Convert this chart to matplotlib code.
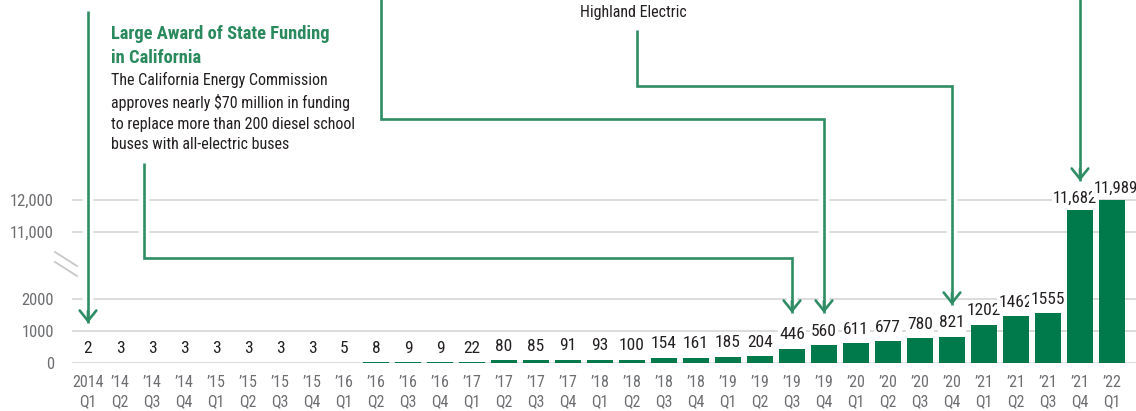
import numpy as np
import matplotlib
matplotlib.use("Agg")
import matplotlib.pyplot as plt
import matplotlib.patheffects as pe
from matplotlib import font_manager

# ---- data -------------------------------------------------------------
periods = [
    "2014\nQ1", "\u201914\nQ2", "\u201914\nQ3", "\u201914\nQ4",
    "\u201915\nQ1", "\u201915\nQ2", "\u201915\nQ3", "\u201915\nQ4",
    "\u201916\nQ1", "\u201916\nQ2", "\u201916\nQ3", "\u201916\nQ4",
    "\u201917\nQ1", "\u201917\nQ2", "\u201917\nQ3", "\u201917\nQ4",
    "\u201918\nQ1", "\u201918\nQ2", "\u201918\nQ3", "\u201918\nQ4",
    "\u201919\nQ1", "\u201919\nQ2", "\u201919\nQ3", "\u201919\nQ4",
    "\u201920\nQ1", "\u201920\nQ2", "\u201920\nQ3", "\u201920\nQ4",
    "\u201921\nQ1", "\u201921\nQ2", "\u201921\nQ3", "\u201921\nQ4",
    "\u201922\nQ1",
]
buses = [
    2, 3, 3, 3,
    3, 3, 3, 3,
    5, 8, 9, 9,
    22, 80, 85, 91,
    93, 100, 154, 161,
    185, 204, 446, 560,
    611, 677, 780, 821,
    1202, 1462, 1555, 11682,
    11989,
]
y_ticks = [0, 1000, 2000, 11000, 12000]
y_tick_labels = ["0", "1000", "2000", "11,000", "12,000"]

# ---- style ------------------------------------------------------------
names = {f.name for f in font_manager.fontManager.ttflist}
COND = "Roboto Condensed" if "Roboto Condensed" in names else "DejaVu Sans"
plt.rcParams["font.family"] = [COND, "DejaVu Sans"]

BAR = "#007a4b"
LINE = "#2e8d64"
TITLE = "#2a8a5e"
INK = "#231f20"
GREY_TXT = "#6d6e71"
GRID = "#d9d9d9"

W, H = 1136, 411
fig = plt.figure(figsize=(W / 100, H / 100), dpi=100)
BASE = 362.7  # pixel row of the zero line
ax = fig.add_axes([72 / W, (H - BASE) / H, (W - 72) / W, BASE / H])

# broken value axis: 2,500 – 10,500 is squeezed into a short gap
LO, HI, GAP_TOP = 2500, 10500, 3630
def fwd(v):
    return np.interp(v, [-1e6, LO, HI, 1e6], [-1e6, LO, GAP_TOP, 1e6 - (HI - GAP_TOP)])
def inv(v):
    return np.interp(v, [-1e6, LO, GAP_TOP, 1e6 - (HI - GAP_TOP)], [-1e6, LO, HI, 1e6])
ax.set_yscale("function", functions=(fwd, inv))
ax.set_ylim(0, 18312)
ax.set_xlim(-0.5, 32.75)

x = np.arange(len(buses))
ax.bar(x, buses, width=0.8, color=BAR, zorder=2)

# the two tall neighbouring labels are spread apart a little
label_nudge = {31: -3.5, 32: 2.5}
for xi, v in zip(x, buses):
    big = v >= 10000
    txt = f"{v:,}" if big else str(v)
    ax.annotate(txt, xy=(xi, v), xytext=(label_nudge.get(xi, 0), 10 if not big else 8.5),
                textcoords="offset points", ha="center", va="center",
                fontsize=12 if big else 12.5, color=INK, zorder=5,
                bbox=dict(boxstyle="square,pad=0.08", fc="white", ec="none"))

ax.set_yticks(y_ticks)
ax.set_yticklabels(y_tick_labels)
ax.set_xticks(x)
ax.set_xticklabels(periods, linespacing=1.3)
ax.tick_params(axis="both", length=0, colors=GREY_TXT, labelsize=11.5)
ax.tick_params(axis="y", pad=13, labelsize=12)
ax.tick_params(axis="x", pad=9)
ax.yaxis.grid(True, color=GRID, lw=1.3, zorder=0.5)
ax.set_axisbelow(True)
for s in ax.spines.values():
    s.set_visible(False)

# axis-break marks
def fy(py):
    return (BASE - py) / BASE
for y0 in (252, 262):
    fig.add_artist(plt.Line2D([55 / W, 77 / W], [1 - y0 / H, 1 - (y0 + 14) / H],
                              color="#c8c8c8", lw=1.3, transform=fig.transFigure))

# ---- callout leader lines --------------------------------------------
xtr = ax.get_xaxis_transform()
halo = [pe.Stroke(linewidth=7.5, foreground="white"), pe.Normal()]

def px_to_x(px):
    return (px - 88) / 32.0

def leader(points, tip_x, tip_y):
    xs = [p[0] for p in points] + [tip_x]
    ys = [fy(p[1]) for p in points] + [fy(tip_y)]
    ax.plot(xs, ys, transform=xtr, clip_on=False, color=LINE, lw=1.9,
            solid_joinstyle="miter", solid_capstyle="butt", path_effects=halo, zorder=3)
    ax.annotate("", xy=(tip_x, fy(tip_y)), xycoords=xtr,
                xytext=(tip_x, fy(tip_y - 12)), textcoords=xtr,
                arrowprops=dict(arrowstyle="->,head_length=0.75,head_width=0.6",
                                color=LINE, lw=1.9, shrinkA=0, shrinkB=0,
                                mutation_scale=10), zorder=4)

leader([(0, 11)], 0, 323)
leader([(px_to_x(144), 163), (px_to_x(144), 258), (22, 258)], 22, 313)
leader([(px_to_x(381), -5), (px_to_x(381), 119), (23, 119)], 23, 313)
leader([(px_to_x(637), 30), (px_to_x(637), 86), (27, 86)], 27, 305)
leader([(31, -5)], 31, 181)

# ---- callout text -----------------------------------------------------
fig.text(111 / W, 1 - 25 / H, "Large Award of State Funding\nin California",
         ha="left", va="top", fontsize=13.3, fontweight="bold",
         color=TITLE, linespacing=1.4)
fig.text(111 / W, 1 - 72 / H,
         "The California Energy Commission\napproves nearly $70 million in funding\n"
         "to replace more than 200 diesel school\nbuses with all-electric buses",
         ha="left", va="top", fontsize=11.5, color=INK, linespacing=1.46)
fig.text(633 / W, 1 - 12 / H, "Highland Electric", ha="center", va="center",
         fontsize=11.5, color=INK)

fig.savefig("out.png", dpi=100)
